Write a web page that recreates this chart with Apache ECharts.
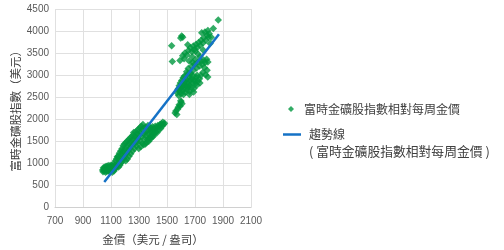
<!DOCTYPE html>
<html>
<head>
<meta charset="utf-8">
<script src="https://cdn.jsdelivr.net/npm/echarts@6/dist/echarts.min.js"></script>
<style>
  html, body { margin: 0; padding: 0; background: #ffffff; }
  #chart { width: 504px; height: 250px; }
</style>
</head>
<body>
<div id="chart"></div>
<script>
// Weekly gold price (USD/oz) against the FTSE Gold Mines index (USD)
const goldPrice = [
  1040,1043,1046,1049,1052,1055,1058,1061,1064,1067,1070,1073,1076,1079,1082,1085,1088,1091,1094,1097,1100,1103,1106,1109,1112,1115,1118,1121,1124,1127,1130,
  1133,1136,1139,1142,1145,1148,1151,1154,1157,1160,1163,1166,1169,1172,1175,1178,1181,1184,1187,1190,1193,1196,1199,1202,1205,1208,1211,1214,1217,1220,
  1223,1226,1229,1232,1235,1238,1241,1244,1247,1250,1253,1256,1259,1262,1265,1268,1271,1274,1277,1280,1283,1286,1289,1292,1295,1298,
  1301,1304,1307,1310,1313,1316,1319,1322,1325,1328,
  1331,1334,1337,1340,1343,1346,1349,1352,1355,1358,1361,1364,1367,1370,1373,1376,1379,1382,1385,1388,1391,1394,1397,1400,
  1404,1408,1412,1416,1420,1425,1430,1435,1440,1445,1450,1455,1460,1465,1470,1476,1482,
  1558,1563,1570,1580,1587,1594,1601,1607,1576,1598,
  1572,1578,1583,1587,1591,1595,1598,1602,1605,1609,1612,1615,1619,1622,1625,1629,1632,1635,1639,1642,1645,1649,1652,1656,1659,1663,1667,1671,1674,1678,1682,1687,1692,1697,1702,1707,1713,1722,1732,1742,1618,1660,1690,
  1584,1606,1628,1648,1668,1700,1715,1735,
  1640,1652,1663,1676,1688,1698,1711,1722,1733,1744,1752,1763,1772,1783,1792,1658,1682,1703,1593,1538,1622,1776,1786,1791,1768,1756,
  1612,1628,1642,1653,1667,1678,1688,1697,1708,1716,1727,1737,1744,1757,1763,1778,1786,1796,1748,1771,1792,1802,1816,1831,1866,1605,1598,1612,1533,1648,1702,1722,1758,1735,1680,1808
];
const minesIndex = [
  850,810,900,860,830,915,870,800,930,860,820,940,880,830,900,950,860,810,920,870,960,840,900,800,940,870,990,830,910,960,880,
  1060,900,1100,950,1150,1000,1160,920,1080,1230,960,1140,1280,1010,1200,1330,1050,1250,1400,1110,1290,1440,1180,1340,1060,1480,1230,1390,1100,1520,
  1290,1440,1160,1560,1350,1480,1220,1600,1400,1530,1280,1640,1450,1700,1560,1330,1620,1460,1720,1400,1580,1680,1480,1760,1560,1340,
  1640,1800,1500,1700,1380,1840,1600,1760,1450,1880,
  1680,1420,1800,1560,1700,1440,1820,1620,1480,1740,1540,1860,1660,1500,1780,1580,1720,1560,1800,1640,1760,1600,1830,1700,
  1620,1780,1680,1840,1720,1800,1700,1860,1760,1830,1880,1790,1900,1850,1930,1880,1910,
  2140,2190,2110,2270,2330,2300,2390,2350,2230,2420,
  2600,2680,2540,2760,2620,2820,2700,2580,2880,2740,2650,2940,2790,2690,2980,2850,2610,2760,2900,2670,3020,2810,2730,2950,2770,2630,2870,3040,2720,2920,2820,2980,2700,2880,2800,2950,2770,2870,2920,2990,2560,2560,2620,
  2700,2780,2860,2740,2900,2860,3000,2820,
  3080,3150,3040,3200,3110,3250,3160,3300,3210,3320,3250,3340,3280,3360,3300,3320,3290,3350,3330,3310,3370,3010,3110,2960,3170,3060,
  3440,3500,3460,3560,3620,3530,3660,3590,3700,3630,3740,3670,3790,3730,3850,3790,3910,3860,3960,3980,4010,3940,3860,4060,4250,3890,3840,3860,3666,3690,3540,3480,3570,3420,3420,3720
];
// Fitted trend line end points
const trendGold = [1052, 1871];
const trendIndex = [580, 3927];

const xTicks = [700, 2100, 200];   // min, max, step
const yTicks = [0, 4500, 500];

const scatterName = '富時金礦股指數相對每周金價';
const trendName = '趨勢線';
const trendSubtitle = '( 富時金礦股指數相對每周金價 )';

const font = '"Liberation Sans", "Noto Sans CJK TC", sans-serif';
const cjkFont = '"Noto Sans CJK TC", "Liberation Sans", sans-serif';
const textGrey = '#404040';

const chart = echarts.init(document.getElementById('chart'), null, { renderer: 'canvas' });
chart.setOption({
  animation: false,
  backgroundColor: '#ffffff',
  grid: { left: 55, right: 253, top: 9, bottom: 39 },
  xAxis: {
    type: 'value',
    min: xTicks[0], max: xTicks[1], interval: xTicks[2],
    name: '金價（美元 / 盎司）',
    nameLocation: 'middle', nameGap: 26, nameMoveOverlap: false,
    nameTextStyle: { fontFamily: cjkFont, fontSize: 11.5, color: textGrey },
    axisLine: { show: true, lineStyle: { color: '#d0d0d0', width: 1 } },
    axisTick: { show: false },
    axisLabel: { fontFamily: font, fontSize: 10, color: '#595959', margin: 9, formatter: (v) => String(v) },
    splitLine: { show: true, lineStyle: { color: '#e0e0e0', width: 1 } }
  },
  yAxis: {
    type: 'value',
    min: yTicks[0], max: yTicks[1], interval: yTicks[2],
    name: '富時金礦股指數（美元）',
    nameLocation: 'middle', nameGap: 34, nameRotate: 90, nameMoveOverlap: false,
    nameTextStyle: { fontFamily: cjkFont, fontSize: 11.5, color: textGrey },
    axisLine: { show: false },
    axisTick: { show: false },
    axisLabel: { fontFamily: font, fontSize: 10, color: '#595959', margin: 6, formatter: (v) => String(v) },
    splitLine: { show: true, lineStyle: { color: '#e0e0e0', width: 1 } }
  },
  legend: [
    {
      data: [scatterName],
      left: 283, top: 98,
      itemWidth: 6, itemHeight: 6, itemGap: 0,
      textStyle: { fontFamily: cjkFont, fontSize: 12, color: textGrey, padding: [0, 0, 0, 5] }
    },
    {
      // a blank first line keeps the icon level with the series name
      data: [{ name: trendName, icon: 'rect' }],
      left: 278, top: 104,
      itemWidth: 18, itemHeight: 2.5,
      formatter: (n) => ' \n{a|' + n + '}\n{b|' + trendSubtitle + '}',
      textStyle: {
        fontFamily: cjkFont, fontSize: 12, color: textGrey, lineHeight: 17, padding: [0, 0, 0, 3],
        rich: {
          a: { fontFamily: cjkFont, fontSize: 12, color: textGrey, lineHeight: 17 },
          b: { fontFamily: cjkFont, fontSize: 12.8, color: textGrey, lineHeight: 17 }
        }
      }
    }
  ],
  series: [
    {
      name: scatterName,
      type: 'scatter',
      symbol: 'diamond',
      symbolSize: 7.5,
      itemStyle: { color: '#00973f' },
      data: goldPrice.map((g, i) => [g, minesIndex[i]])
    },
    {
      name: trendName,
      type: 'line',
      symbol: 'none',
      lineStyle: { color: '#1572c6', width: 2.5 },
      itemStyle: { color: '#1572c6' },
      data: trendGold.map((g, i) => [g, trendIndex[i]])
    }
  ]
});
</script>
</body>
</html>
